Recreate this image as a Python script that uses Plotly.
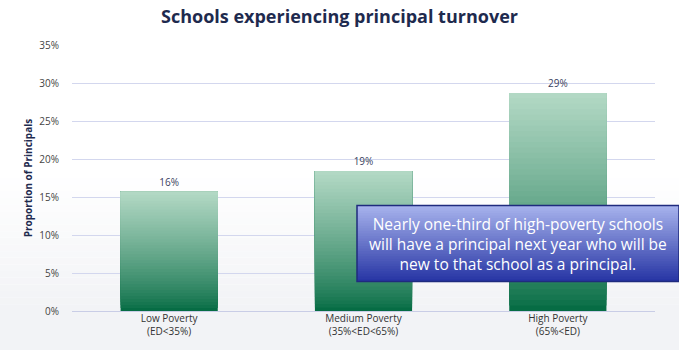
import plotly.graph_objects as go

categories = ["Low Poverty<br>(ED<35%)", "Medium Poverty<br>(35%<ED<65%)", "High Poverty<br>(65%<ED)"]
values = [15.7, 18.4, 28.7]
value_labels = ["16%", "19%", "29%"]
tick_vals = [0, 5, 10, 15, 20, 25, 30, 35]
tick_text = ["0%", "5%", "10%", "15%", "20%", "25%", "30%", "35%"]
title_text = "Schools experiencing principal turnover"
y_title = "Proportion of Principals"
callout = "Nearly one-third of high-poverty schools<br>will have a principal next year who will be<br>new to that school as a principal."


def lerp(c1, c2, t):
    return "rgb(%d,%d,%d)" % tuple(round(a + (b - a) * t) for a, b in zip(c1, c2))


dark_green = (6, 108, 68)
light_green = (178, 216, 196)

fig = go.Figure()
N = 40
for k in range(N):
    t = k / (N - 1)
    fig.add_trace(go.Bar(
        x=categories,
        y=[v * (N - k) / N for v in values],
        base=[v * k / N for v in values],
        marker=dict(color=lerp(dark_green, light_green, t ** 0.8), line=dict(width=0)),
        hoverinfo="skip",
        showlegend=False,
    ))

fig.add_trace(go.Bar(
    x=categories,
    y=values,
    text=value_labels,
    textposition="outside",
    textfont=dict(size=10, color="#3a3f5e", family="Open Sans"),
    marker=dict(color="rgba(0,0,0,0)", line=dict(width=0)),
    cliponaxis=False,
    showlegend=False,
    hoverinfo="skip",
))

shapes = []
# subtle grey background gradient in lower part
nb = 20
for i in range(nb):
    y0 = 0.5 * i / nb
    y1 = 0.5 * (i + 1) / nb
    t = 1 - i / nb
    shapes.append(dict(type="rect", xref="paper", yref="paper", x0=-0.2, x1=1.1,
                       y0=y0 - 0.2 if i == 0 else y0, y1=y1, layer="below",
                       line=dict(width=0),
                       fillcolor=lerp((255, 255, 255), (242, 243, 246), t)))

# callout box gradient
bx0, bx1 = (357 - 72) / 583, (679 - 72) / 583
by_top, by_bot = (315 - 208) / 270, (315 - 285) / 270
top_blue = (166, 178, 236)
bot_blue = (40, 54, 165)
M = 30
for i in range(M):
    ya = by_bot + (by_top - by_bot) * i / M
    t = i / (M - 1)
    shapes.append(dict(type="rect", xref="paper", yref="paper", x0=bx0, x1=bx1,
                       y0=ya, y1=by_top, line=dict(width=0),
                       fillcolor=lerp(bot_blue, top_blue, t)))
shapes.append(dict(type="rect", xref="paper", yref="paper", x0=bx0, x1=bx1,
                   y0=by_bot, y1=by_top, line=dict(width=1.5, color="#1f2b7e"),
                   fillcolor="rgba(0,0,0,0)"))

fig.update_layout(
    width=679, height=350,
    margin=dict(l=72, r=24, t=45, b=35),
    barmode="overlay",
    bargap=0.5,
    paper_bgcolor="white",
    plot_bgcolor="rgba(0,0,0,0)",
    font=dict(family="Open Sans", color="#333"),
    title=dict(text="<b>" + title_text + "</b>", x=0.5, xref="container", xanchor="center",
               y=0.952, yanchor="middle",
               font=dict(size=18, color="#1e2a4e", family="Open Sans")),
    shapes=shapes,
    annotations=[dict(text=callout, xref="paper", yref="paper",
                      x=(bx0 + bx1) / 2, y=(by_top + by_bot) / 2,
                      xanchor="center", yanchor="middle",
                      showarrow=False, align="center",
                      font=dict(size=15.5, color="white", family="Open Sans"))],
    xaxis=dict(showgrid=False, showline=False, ticks="",
               tickfont=dict(size=10, color="#333", family="Open Sans"),
               fixedrange=True),
    yaxis=dict(range=[0, 35], tickvals=tick_vals, ticktext=tick_text,
               showgrid=True, gridcolor="#d3d7ee", gridwidth=1,
               zeroline=True, zerolinecolor="#c9cde6", zerolinewidth=1,
               tickfont=dict(size=10, color="#444", family="Open Sans"),
               ticks="", ticklabelstandoff=12,
               title=dict(text="<b>" + y_title + "</b>", standoff=4,
                          font=dict(size=10, color="#1e2a4e", family="Open Sans"))),
)

fig.write_html("out.html")
